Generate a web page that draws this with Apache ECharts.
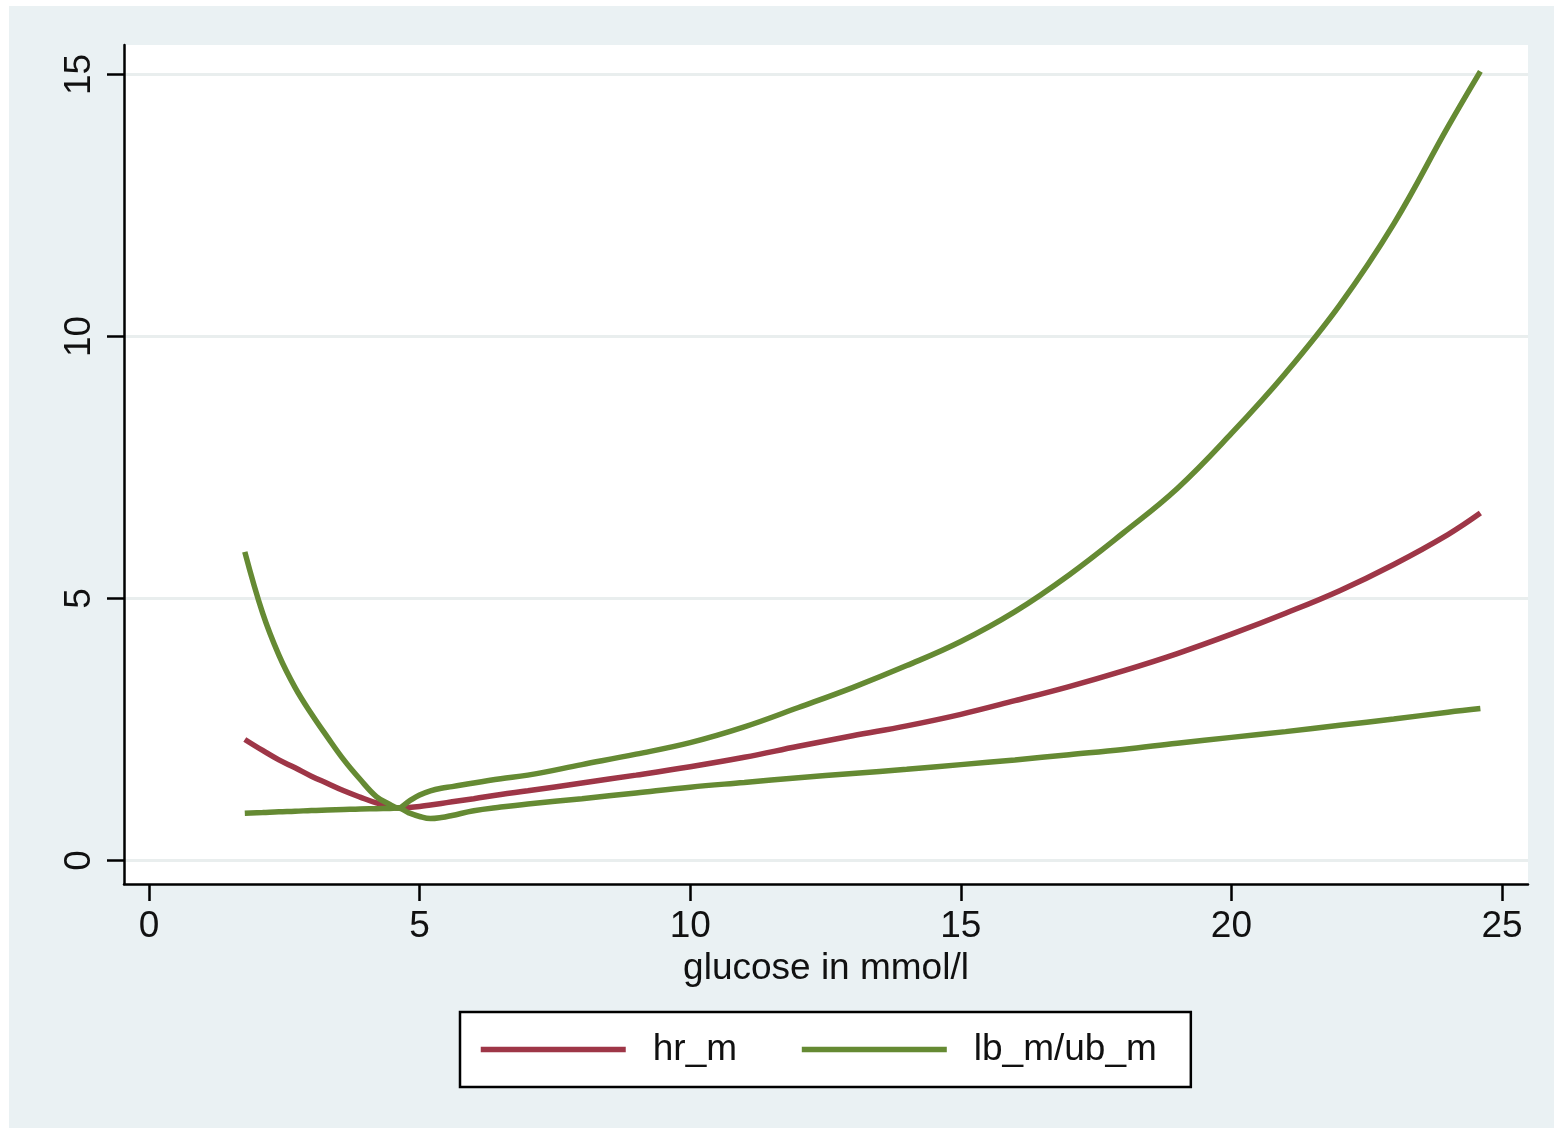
<!DOCTYPE html>
<html>
<head>
<meta charset="utf-8">
<script src="https://cdn.jsdelivr.net/npm/echarts@6/dist/echarts.min.js"></script>
<style>
  html, body { margin: 0; padding: 0; background: #ffffff; width: 1554px; height: 1134px; overflow: hidden; }
  #chart { position: absolute; left: 9px; top: 6px; width: 1545px; height: 1122px; background: #eaf1f3; }
</style>
</head>
<body>
<div id="chart"></div>
<script>
// glucose (mmol/l) at which the hazard ratio curve and its bounds are evaluated
const glucose = [1.77, 2.1, 2.4, 2.7, 3.0, 3.3, 3.6, 3.9, 4.2, 4.45, 4.6, 4.8, 5.0, 5.2, 5.4, 5.6, 6.0, 6.5, 7, 8, 9, 10, 11, 12, 13, 14, 15, 16, 17, 18, 19, 20, 21, 22, 23, 24, 24.6];

// hazard ratio
const hrM = [2.31, 2.10, 1.92, 1.77, 1.61, 1.47, 1.33, 1.21, 1.10, 1.04, 1.0, 1.01, 1.03, 1.06, 1.09, 1.12, 1.18, 1.26, 1.33, 1.48, 1.63, 1.79, 1.97, 2.18, 2.38, 2.57, 2.79, 3.05, 3.32, 3.62, 3.95, 4.32, 4.72, 5.15, 5.65, 6.22, 6.63];

// lower bound
const lbM = [0.90, 0.915, 0.93, 0.94, 0.955, 0.965, 0.975, 0.985, 0.99, 0.995, 1.0, 0.91, 0.84, 0.80, 0.82, 0.86, 0.95, 1.02, 1.08, 1.18, 1.29, 1.40, 1.49, 1.58, 1.66, 1.74, 1.83, 1.92, 2.02, 2.12, 2.24, 2.35, 2.46, 2.58, 2.70, 2.83, 2.90];

// upper bound
const ubM = [5.89, 4.72, 3.92, 3.30, 2.80, 2.35, 1.92, 1.55, 1.22, 1.07, 1.0, 1.13, 1.25, 1.33, 1.38, 1.41, 1.48, 1.56, 1.63, 1.83, 2.03, 2.25, 2.55, 2.92, 3.30, 3.72, 4.18, 4.75, 5.45, 6.25, 7.10, 8.15, 9.30, 10.6, 12.15, 14.0, 15.06];

const xTicks = [0, 5, 10, 15, 20, 25];
const yTicks = [0, 5, 10, 15];

const RED = '#9e3647';
const GREEN = '#658a33';
const FONT = 'Liberation Sans, Arial, Helvetica, sans-serif';

const pairs = (xs, ys) => xs.map((x, i) => [x, ys[i]]);

const chart = echarts.init(document.getElementById('chart'), null, { renderer: 'canvas' });

const lineSeries = (name, ys, color) => ({
  name: name,
  type: 'line',
  data: pairs(glucose, ys),
  showSymbol: false,
  symbol: 'none',
  smooth: 0.4,
  lineStyle: { color: color, width: 5.5 },
  itemStyle: { color: color },
  emphasis: { disabled: true },
  z: 3
});

chart.setOption({
  animation: false,
  backgroundColor: '#eaf1f3',
  textStyle: { fontFamily: FONT },
  grid: { left: 115, top: 39, right: 26, bottom: 244, backgroundColor: '#ffffff', show: true, borderWidth: 0 },
  xAxis: {
    type: 'value',
    min: -0.462,
    max: 25.48,
    name: 'glucose in mmol/l',
    nameLocation: 'middle',
    nameGap: 64,
    nameTextStyle: { fontSize: 37, color: '#111', fontFamily: FONT },
    axisLine: { show: true, onZero: false, lineStyle: { color: '#000', width: 2.5 } },
    axisTick: { show: true, length: 17, inside: false, customValues: xTicks, lineStyle: { color: '#000', width: 2.5 } },
    axisLabel: { customValues: xTicks, fontSize: 37, color: '#111', margin: 24, fontFamily: FONT },
    splitLine: { show: false }
  },
  yAxis: {
    type: 'value',
    min: -0.448,
    max: 15.563,
    axisLine: { show: true, onZero: false, lineStyle: { color: '#000', width: 2.5 } },
    axisTick: { show: true, length: 17, inside: false, customValues: yTicks, lineStyle: { color: '#000', width: 2.5 } },
    axisLabel: { customValues: yTicks, fontSize: 37, color: '#111', margin: 26, rotate: 90, fontFamily: FONT },
    splitLine: { show: true, lineStyle: { color: '#e9eeee', width: 3 } }
  },
  legend: {
    left: 451,
    top: 1006,
    orient: 'horizontal',
    data: ['hr_m', 'lb_m/ub_m'],
    itemWidth: 145,
    itemHeight: 36,
    itemGap: 62,
    padding: [19, 34, 19, 18],
    backgroundColor: '#ffffff',
    borderColor: '#000',
    borderWidth: 2.5,
    borderRadius: 0,
    selectedMode: false,
    textStyle: { fontSize: 37, color: '#111', fontFamily: FONT, padding: [0, 0, 0, 22] },
    itemStyle: { opacity: 0 },
    lineStyle: { width: 5.5 }
  },
  series: [
    lineSeries('hr_m', hrM, RED),
    lineSeries('lb_m/ub_m', lbM, GREEN),
    lineSeries('lb_m/ub_m', ubM, GREEN)
  ]
});
</script>
</body>
</html>
